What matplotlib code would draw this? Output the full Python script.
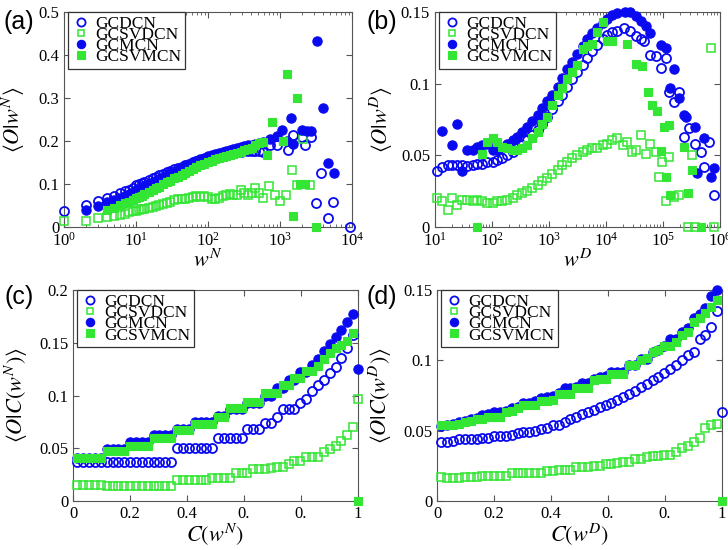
import numpy as np
import matplotlib
matplotlib.use("Agg")
import matplotlib.pyplot as plt
import matplotlib.ticker as mticker

plt.rcParams["font.family"] = "serif"
plt.rcParams["font.serif"] = ["Liberation Serif", "DejaVu Serif"]
plt.rcParams["mathtext.fontset"] = "stix"

BLUE = "#0a0af0"
GREEN = "#33e633"
NAMES = ["GCDCN", "GCSVDCN", "GCMCN", "GCSVMCN"]
nan = np.nan

# ---------------------------------------------------------------- (a) <O|w^N>
a_w = [1, 2, 3, 4, 5, 6, 7, 8, 9, 10, 11, 12, 13, 15, 17, 19, 21, 24, 27, 30,
       34, 38, 43, 48, 54, 61, 69, 78, 88, 100, 112, 126, 142, 160, 180, 200,
       225, 255, 285, 320, 360, 405, 455, 510, 575]
a_gcdcn = [0.038, 0.05, 0.06, 0.068, 0.073, 0.078, 0.083, 0.087, 0.091, 0.097,
           0.1, 0.102, 0.105, 0.109, 0.113, 0.116, 0.12, 0.124, 0.127, 0.13,
           0.134, 0.137, 0.14, 0.144, 0.147, 0.15, 0.153, 0.156, 0.159, 0.162,
           0.164, 0.166, 0.168, 0.17, 0.171, 0.172, 0.173, 0.174, 0.175, 0.176,
           0.176, 0.177, 0.176, 0.177, 0.175]
a_gcsvdcn = [0.015, 0.013, 0.02, 0.023, 0.026, 0.029, 0.031, 0.034, 0.037, 0.038,
             0.04, 0.041, 0.042, 0.044, 0.046, 0.048, 0.05, 0.053, 0.055, 0.058,
             0.062, 0.064, 0.065, 0.066, 0.068, 0.07, 0.071, 0.07, 0.071, 0.07,
             0.066, 0.065, 0.068, 0.071, 0.075, 0.076, 0.075, 0.075, 0.085, 0.078,
             0.075, 0.08, 0.09, 0.08, 0.068]
a_gcmcn = [nan, 0.04, 0.048, 0.057, 0.063, 0.068, 0.073, 0.077, 0.081, 0.085,
           0.089, 0.092, 0.095, 0.1, 0.104, 0.108, 0.112, 0.117, 0.121, 0.125,
           0.129, 0.133, 0.137, 0.141, 0.145, 0.149, 0.153, 0.157, 0.161, 0.164,
           0.167, 0.17, 0.173, 0.175, 0.177, 0.18, 0.182, 0.184, 0.186, 0.188,
           0.19, 0.191, 0.193, 0.195, 0.197]
a_gcsvmcn = [nan, nan, nan, 0.04, 0.045, 0.05, 0.055, 0.059, 0.063, 0.067,
             0.07, 0.073, 0.076, 0.081, 0.086, 0.09, 0.094, 0.099, 0.104, 0.108,
             0.113, 0.117, 0.122, 0.126, 0.131, 0.135, 0.139, 0.143, 0.147, 0.151,
             0.154, 0.157, 0.16, 0.163, 0.165, 0.168, 0.17, 0.172, 0.175, 0.178,
             0.181, 0.183, 0.19, 0.195, 0.197]
# noisy tails (large w)
a_gcdcn_tw = [720, 900, 1300, 1530, 2000, 2200, 2700, 3200, 3700, 4600, 5500, 9500]
a_gcdcn_tv = [0.19, 0.19, 0.18, 0.213, 0.21, 0.19, 0.21, 0.056, 0.125, 0.02, 0.058, 0.0]
a_gcsvdcn_tw = [700, 850, 1000, 1200, 1450, 1750, 2100, 2600]
a_gcsvdcn_tv = [0.095, 0.075, 0.06, 0.074, 0.133, 0.098, 0.205, 0.097]
a_gcmcn_tw = [720, 900, 1050, 1250, 1400, 1530, 2000, 2350, 2700, 3300, 3900, 4700, 5600]
a_gcmcn_tv = [0.204, 0.212, 0.225, 0.2, 0.253, 0.193, 0.225, 0.224, 0.224, 0.433, 0.276, 0.148, 0.126]
a_gcsvmcn_tw = [650, 770, 1090, 1250, 1530, 1750, 1900, 2200, 3200]
a_gcsvmcn_tv = [0.167, 0.243, 0.2, 0.356, 0.026, 0.3, 0.1, 0.1, 0.0]

# ---------------------------------------------------------------- (b) <O|w^D>, x given as log10(w^D)
b_lw = [1.04, 1.13, 1.22, 1.30, 1.39, 1.48, 1.57, 1.66, 1.74, 1.83,
        1.92, 2.01, 2.09, 2.18, 2.27, 2.36, 2.44, 2.53, 2.62, 2.71,
        2.80, 2.88, 2.97, 3.06, 3.15, 3.23, 3.32, 3.41, 3.50, 3.59,
        3.67, 3.76, 3.85, 3.94, 4.02, 4.11, 4.20]
b_gcdcn = [0.039, 0.042, 0.043, 0.0435, 0.043, 0.043, 0.0425, 0.0435, 0.044, 0.044,
           0.045, 0.045, 0.0465, 0.048, 0.05, 0.052, 0.055, 0.057, 0.061, 0.064,
           0.068, 0.072, 0.077, 0.082, 0.088, 0.092, 0.098, 0.103, 0.108, 0.113,
           0.118, 0.123, 0.127, 0.131, 0.134, 0.136, 0.137]
b_gcsvdcn = [0.02, 0.018, 0.012, 0.02, 0.015, 0.019, 0.019, 0.018, 0.019, 0.018,
             0.017, 0.017, 0.018, 0.018, 0.019, 0.02, 0.022, 0.024, 0.025, 0.027,
             0.029, 0.032, 0.034, 0.037, 0.04, 0.043, 0.045, 0.048, 0.05, 0.052,
             0.054, 0.055, 0.055, 0.057, 0.058, 0.061, 0.062]
b_gcmcn = [nan, 0.067, nan, 0.057, 0.072, 0.039, 0.054, 0.054, 0.056, 0.057,
           0.058, 0.054, 0.054, 0.055, 0.058, 0.061, 0.063, 0.066, 0.07, 0.074,
           0.078, 0.083, 0.088, 0.092, 0.098, 0.104, 0.11, 0.115, 0.121, 0.126,
           0.131, 0.135, 0.139, 0.142, 0.145, 0.148, 0.149]
b_gcsvmcn = [nan, nan, nan, nan, nan, nan, nan, nan, 0.0, 0.051,
             0.059, 0.062, 0.059, 0.056, 0.055, 0.054, 0.054, 0.055, 0.057, 0.062,
             0.066, 0.072, 0.077, 0.085, 0.092, 0.097, 0.103, 0.108, 0.113, 0.124,
             0.126, 0.128, 0.136, 0.143, 0.13, 0.13, nan]
b_gcdcn_tl = [4.32, 4.43, 4.52, 4.61, 4.67, 4.78, 4.87, 4.96, 5.05, 5.11,
              5.19, 5.28, 5.37, 5.46, 5.57, 5.66, 5.72, 5.81, 5.90]
b_gcdcn_tv = [0.139, 0.137, 0.133, 0.131, 0.13, 0.12, 0.119, 0.111, 0.118, 0.094,
              0.087, 0.094, 0.063, 0.069, 0.058, 0.052, 0.042, 0.059, 0.022]
b_gcsvdcn_tl = [4.29, 4.37, 4.46, 4.52, 4.61, 4.70, 4.78, 4.87, 4.93, 4.99,
                5.05, 5.11, 5.19, 5.28, 5.43, 5.51, 5.57, 5.84, 5.89]
b_gcsvdcn_tv = [0.057, 0.059, 0.052, 0.054, 0.064, 0.051, 0.058, 0.052, 0.035, 0.045,
                0.018, 0.049, 0.021, 0.022, 0.0, 0.05, 0.0, 0.125, 0.0]
b_gcmcn_tl = [4.33, 4.43, 4.52, 4.61, 4.70, 4.78, 4.96, 5.05, 5.12, 5.19,
              5.28, 5.37, 5.40, 5.57, 5.60, 5.72, 5.84, 5.90]
b_gcmcn_tv = [0.15, 0.15, 0.147, 0.144, 0.14, 0.135, 0.127, 0.125, 0.097, 0.11,
              0.09, 0.078, 0.077, 0.07, 0.038, 0.062, 0.035, 0.041]
b_gcsvmcn_tl = [4.37, 4.52, 4.64, 4.73, 4.81, 4.90, 4.96, 5.02, 5.05, 5.11,
                5.13, 5.36, 5.43, 5.51, 5.67]
b_gcsvmcn_tv = [0.128, 0.114, 0.112, 0.094, 0.085, 0.081, 0.053, 0.07, 0.035, 0.071,
                0.022, 0.056, 0.024, 0.04, 0.0]

# ---------------------------------------------------------------- (c), (d) cumulative
cd_x = [0.015, 0.036, 0.056, 0.077, 0.097, 0.118, 0.139, 0.159, 0.180, 0.200,
        0.221, 0.242, 0.262, 0.283, 0.303, 0.324, 0.345, 0.365, 0.386, 0.406,
        0.427, 0.448, 0.468, 0.489, 0.509, 0.530, 0.551, 0.571, 0.592, 0.612,
        0.633, 0.654, 0.674, 0.695, 0.715, 0.736, 0.757, 0.777, 0.798, 0.818,
        0.839, 0.860, 0.880, 0.901, 0.921, 0.942, 0.963, 0.984]
c_gcdcn = [0.037, 0.037, 0.037, 0.037, 0.037, 0.037, 0.037, 0.037, 0.037, 0.037,
           0.037, 0.037, 0.037, 0.037, 0.037, 0.037, 0.037, 0.05, 0.05, 0.05,
           0.05, 0.05, 0.05, 0.05, 0.06, 0.06, 0.06, 0.06, 0.06, 0.068,
           0.068, 0.068, 0.074, 0.074, 0.08, 0.087, 0.087, 0.087, 0.093, 0.097,
           0.104, 0.11, 0.115, 0.121, 0.127, 0.136, 0.145, 0.157]
c_gcsvdcn = [0.015, 0.015, 0.015, 0.015, 0.015, 0.014, 0.014, 0.014, 0.014, 0.014,
             0.014, 0.014, 0.014, 0.014, 0.014, 0.014, 0.014, 0.02, 0.02, 0.02,
             0.02, 0.02, 0.02, 0.022, 0.022, 0.022, 0.022, 0.027, 0.027, 0.027,
             0.03, 0.03, 0.03, 0.031, 0.032, 0.032, 0.035, 0.038, 0.038, 0.042,
             0.042, 0.042, 0.046, 0.049, 0.052, 0.057, 0.063, 0.07]
c_gcmcn = [0.041, 0.041, 0.041, 0.041, 0.041, 0.049, 0.049, 0.049, 0.049, 0.056,
           0.056, 0.056, 0.056, 0.063, 0.063, 0.063, 0.063, 0.068, 0.068, 0.068,
           0.075, 0.075, 0.075, 0.075, 0.081, 0.081, 0.087, 0.087, 0.087, 0.093,
           0.093, 0.093, 0.1, 0.1, 0.107, 0.107, 0.115, 0.115, 0.122, 0.122,
           0.129, 0.135, 0.142, 0.149, 0.155, 0.162, 0.17, 0.177]
c_gcsvmcn = [0.041, 0.041, 0.041, 0.041, 0.041, 0.047, 0.047, 0.047, 0.047, 0.052,
             0.052, 0.052, 0.052, 0.06, 0.06, 0.06, 0.06, 0.067, 0.067, 0.067,
             0.073, 0.073, 0.073, 0.073, 0.08, 0.08, 0.088, 0.088, 0.088, 0.094,
             0.094, 0.094, 0.102, 0.102, 0.102, 0.11, 0.11, 0.117, 0.117, 0.123,
             0.123, 0.128, 0.135, 0.14, 0.145, 0.148, 0.152, 0.159]
c_last = [nan, 0.097, 0.125, 0.0]   # values at C = 1

d_gcdcn = [0.042, 0.042, 0.043, 0.044, 0.044, 0.044, 0.044, 0.045, 0.045, 0.046,
           0.046, 0.046, 0.047, 0.048, 0.049, 0.049, 0.05, 0.051, 0.052, 0.054,
           0.054, 0.056, 0.058, 0.06, 0.062, 0.063, 0.065, 0.067, 0.068, 0.07,
           0.072, 0.074, 0.076, 0.078, 0.081, 0.083, 0.086, 0.088, 0.091, 0.094,
           0.097, 0.1, 0.104, 0.106, 0.115, 0.118, 0.124, 0.135]
d_gcsvdcn = [0.017, 0.016, 0.0165, 0.0165, 0.017, 0.017, 0.017, 0.0175, 0.0175, 0.0175,
             0.0175, 0.018, 0.02, 0.02, 0.02, 0.02, 0.02, 0.02, 0.021, 0.021,
             0.022, 0.022, 0.022, 0.024, 0.024, 0.024, 0.025, 0.025, 0.026, 0.026,
             0.027, 0.028, 0.028, 0.03, 0.03, 0.031, 0.032, 0.032, 0.033, 0.033,
             0.035, 0.038, 0.039, 0.042, 0.045, 0.052, 0.054, 0.055]
d_gcmcn = [0.053, 0.054, 0.055, 0.056, 0.057, 0.058, 0.059, 0.061, 0.062, 0.063,
           0.063, 0.064, 0.066, 0.067, 0.07, 0.07, 0.071, 0.073, 0.074, 0.075,
           0.077, 0.08, 0.08, 0.081, 0.084, 0.084, 0.087, 0.088, 0.089, 0.092,
           0.092, 0.092, 0.097, 0.097, 0.101, 0.101, 0.106, 0.107, 0.11, 0.115,
           0.115, 0.12, 0.123, 0.13, 0.133, 0.137, 0.146, 0.15]
d_gcsvmcn = [0.054, 0.054, 0.054, 0.055, 0.056, 0.057, 0.058, 0.058, 0.06, 0.06,
             0.06, 0.063, 0.064, 0.066, 0.068, 0.068, 0.068, 0.071, 0.071, 0.072,
             0.076, 0.076, 0.076, 0.08, 0.08, 0.08, 0.086, 0.087, 0.087, 0.09,
             0.09, 0.09, 0.097, 0.097, 0.1, 0.102, 0.106, 0.107, 0.11, 0.11,
             0.113, 0.118, 0.12, 0.127, 0.13, 0.134, 0.138, 0.143]
d_last = [0.063, nan, nan, 0.0]

cd_xticklabels = ["0", "0.2", "0.4", "0.", "0.", "1"]

STYLES = [
    dict(marker="o", mfc="none", mec=BLUE, ms=6.5, mew=1.3),
    dict(marker="s", mfc="none", mec=GREEN, ms=5.3, mew=1.1),
    dict(marker="o", mfc=BLUE, mec=BLUE, ms=6.7, mew=0.8),
    dict(marker="s", mfc=GREEN, mec=GREEN, ms=5.8, mew=0.8),
]

fig = plt.figure(figsize=(7.28, 5.5), dpi=100)
ax_a = fig.add_axes([0.0879, 0.5873, 0.3956, 0.3909])
ax_b = fig.add_axes([0.5975, 0.5873, 0.3915, 0.3909])
ax_c = fig.add_axes([0.1003, 0.0891, 0.3915, 0.3836])
ax_d = fig.add_axes([0.6003, 0.0891, 0.3915, 0.3836])


def draw(ax, xs, ys):
    for x, y, name, st in zip(xs, ys, NAMES, STYLES):
        ax.plot(x, y, ls="none", label=name, clip_on=False, zorder=3, **st)


def style_axes(ax, ylabel, xlabel, yticks, ylab_x):
    for s in ax.spines.values():
        s.set_color("#555555")
        s.set_linewidth(0.8)
    ax.tick_params(which="both", direction="in", top=True, right=True,
                   color="#555555", labelcolor="black", labelsize=12)
    ax.tick_params(which="major", length=4)
    ax.tick_params(which="minor", length=2)
    ax.set_yticks(yticks)
    ax.yaxis.set_major_formatter(mticker.FormatStrFormatter("%g"))
    ax.set_ylim(yticks[0], yticks[-1])
    ax.set_ylabel(ylabel, fontsize=16)
    ax.yaxis.set_label_coords(ylab_x, 0.5)
    ax.set_xlabel(xlabel, fontsize=16, labelpad=0)
    leg = ax.legend(loc="upper left", bbox_to_anchor=(0.013, 1.0), borderaxespad=0,
                    fancybox=False, edgecolor="#333333", framealpha=1, fontsize=12.5,
                    labelspacing=-0.28, handlelength=1.1, handletextpad=0.3,
                    borderpad=0.2, numpoints=1, markerscale=0.9)
    leg.get_frame().set_linewidth(0.9)
    leg.set_zorder(5)


# (a)
draw(ax_a,
     [a_w + a_gcdcn_tw, a_w + a_gcsvdcn_tw, a_w + a_gcmcn_tw, a_w + a_gcsvmcn_tw],
     [a_gcdcn + a_gcdcn_tv, a_gcsvdcn + a_gcsvdcn_tv, a_gcmcn + a_gcmcn_tv,
      a_gcsvmcn + a_gcsvmcn_tv])
ax_a.set_xscale("log")
ax_a.set_xlim(1, 1e4)
style_axes(ax_a, r"$\langle O|w^N\rangle$", r"$w^N$", [0, 0.1, 0.2, 0.3, 0.4, 0.5], -0.13)

# (b)
b_x = [10 ** np.array(b_lw + b_gcdcn_tl), 10 ** np.array(b_lw + b_gcsvdcn_tl),
       10 ** np.array(b_lw + b_gcmcn_tl), 10 ** np.array(b_lw + b_gcsvmcn_tl)]
draw(ax_b, b_x,
     [b_gcdcn + b_gcdcn_tv, b_gcsvdcn + b_gcsvdcn_tv, b_gcmcn + b_gcmcn_tv,
      b_gcsvmcn + b_gcsvmcn_tv])
ax_b.set_xscale("log")
ax_b.set_xlim(10, 1e6)
style_axes(ax_b, r"$\langle O|w^D\rangle$", r"$w^D$", [0, 0.05, 0.1, 0.15], -0.14)

# (c)
draw(ax_c, [cd_x + [1.0]] * 4,
     [c_gcdcn + [c_last[0]], c_gcsvdcn + [c_last[1]], c_gcmcn + [c_last[2]],
      c_gcsvmcn + [c_last[3]]])
ax_c.set_xlim(0, 1)
ax_c.set_xticks([0, 0.2, 0.4, 0.6, 0.8, 1.0])
ax_c.set_xticklabels(cd_xticklabels)
style_axes(ax_c, r"$\langle O|C(w^N)\rangle$", r"$C(w^N)$", [0, 0.05, 0.1, 0.15, 0.2], -0.15)

# (d)
draw(ax_d, [cd_x + [1.0]] * 4,
     [d_gcdcn + [d_last[0]], d_gcsvdcn + [d_last[1]], d_gcmcn + [d_last[2]],
      d_gcsvmcn + [d_last[3]]])
ax_d.set_xlim(0, 1)
ax_d.set_xticks([0, 0.2, 0.4, 0.6, 0.8, 1.0])
ax_d.set_xticklabels(cd_xticklabels)
style_axes(ax_d, r"$\langle O|C(w^D)\rangle$", r"$C(w^D)$", [0, 0.05, 0.1, 0.15], -0.15)

for lab, (px, py) in zip(["(a)", "(b)", "(c)", "(d)"],
                         [(19, 22), (382, 22), (19, 297), (382, 297)]):
    fig.text(px / 728, 1 - py / 550, lab, family="Liberation Sans", fontsize=18,
             ha="center", va="center")

fig.savefig("out.png", dpi=100)
